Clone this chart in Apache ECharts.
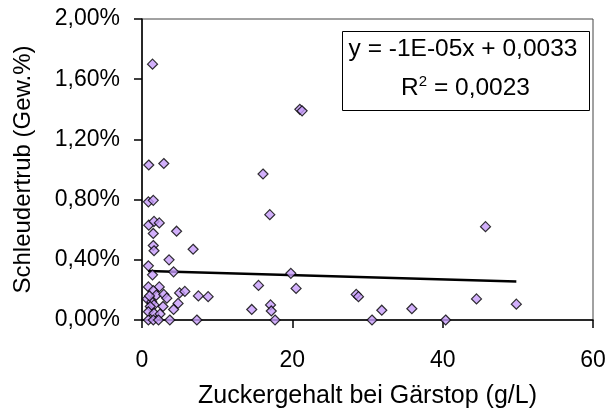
<!DOCTYPE html>
<html>
<head>
<meta charset="utf-8">
<script src="https://cdn.jsdelivr.net/npm/echarts@6/dist/echarts.min.js"></script>
<style>
html,body{margin:0;padding:0;background:#fff;}
#chart{width:609px;height:409px;}
</style>
</head>
<body>
<div id="chart"></div>
<script>
// Zuckergehalt bei Gärstop (g/L)
var sugar = [1.4,0.9,2.9,0.85,1.5,0.9,1.6,2.3,1.5,4.6,1.5,1.6,6.8,3.6,0.85,1.4,4.2,
  0.85,2.3,1.5,1.9,2.9,0.7,1.3,1.6,2.8,1.1,4.8,5.0,5.7,7.5,8.8,4.2,0.85,1.6,2.4,0.85,1.5,2.2,3.7,7.3,3.3,1.0,
  14.6,21.0,21.3,16.1,17.0,19.8,15.5,20.5,28.5,28.8,17.1,17.2,17.7,30.6,31.9,35.9,45.7,44.5,49.8,40.4];
// Schleudertrub (Gew.%), in percent
var trub = [1.70,1.03,1.04,0.785,0.795,0.63,0.655,0.645,0.575,0.59,0.495,0.46,0.47,0.40,0.36,0.30,0.32,
  0.22,0.22,0.195,0.165,0.17,0.14,0.12,0.10,0.09,0.09,0.11,0.18,0.19,0.16,0.155,0.07,0.055,0.045,0.04,0,0,0,0,0,0.145,0.16,
  0.07,1.40,1.39,0.97,0.70,0.31,0.23,0.21,0.17,0.155,0.10,0.06,0,0,0.065,0.075,0.62,0.14,0.105,0];
// linear trend line endpoints (x, y%)
var trendX = [0.8, 49.8];
var trendY = [0.325, 0.255];
var xTicks = [0, 20, 40, 60];
var yTicks = [0, 0.4, 0.8, 1.2, 1.6, 2.0];
var eqLine1 = 'y = -1E-05x + 0,0033';
var eqLine2 = 'R{sup|2} = 0,0023';

var pts = sugar.map(function(x, i){ return [x, trub[i]]; });
var trend = trendX.map(function(x, i){ return [x, trendY[i]]; });

var FONT = 'Liberation Sans, Arial, sans-serif';
var chart = echarts.init(document.getElementById('chart'), null, {renderer:'canvas'});
chart.setOption({
  animation: false,
  backgroundColor: '#fff',
  grid: {left:142, right:16, top:19, bottom:89, containLabel:false, outerBoundsMode:'none',
         show:true, borderColor:'#444', borderWidth:1, backgroundColor:'transparent'},
  xAxis: {
    type:'value', min:xTicks[0], max:xTicks[xTicks.length-1], interval:20,
    name:'Zuckergehalt bei Gärstop (g/L)', nameLocation:'middle', nameGap:64,
    nameTextStyle:{fontFamily:FONT, fontSize:25, color:'#000'},
    axisLine:{onZero:false, lineStyle:{color:'#000', width:1.5}},
    axisTick:{show:true, inside:false, length:8, lineStyle:{color:'#000', width:1.5}},
    axisLabel:{fontFamily:FONT, fontSize:23, color:'#000', margin:29},
    splitLine:{show:false}
  },
  yAxis: {
    type:'value', min:yTicks[0], max:yTicks[yTicks.length-1], interval:0.4,
    name:'Schleudertrub (Gew.%)', nameLocation:'middle', nameGap:107, nameRotate:90,
    nameTextStyle:{fontFamily:FONT, fontSize:24, color:'#000'},
    axisLine:{onZero:false, lineStyle:{color:'#000', width:1.5}},
    axisTick:{show:true, inside:false, length:8, lineStyle:{color:'#000', width:1.5}},
    axisLabel:{fontFamily:FONT, fontSize:23, color:'#000', margin:22,
      formatter:function(v){ return v.toFixed(2).replace('.', ',') + '%'; }},
    splitLine:{show:false}
  },
  series: [
    {type:'scatter', data:pts, symbol:'diamond', symbolSize:10,
     itemStyle:{color:'#C79CFA', borderColor:'#000', borderWidth:1.2}, z:3},
    {type:'line', data:trend, symbol:'none', lineStyle:{color:'#000', width:2.5}, z:2}
  ],
  graphic: [
    {type:'rect', left:342, top:31, shape:{width:247, height:79},
     style:{fill:'#fff', stroke:'#000', lineWidth:1}, z:10},
    {type:'text', x:463, y:49, style:{text:eqLine1, fontFamily:FONT, fontSize:24.5, fill:'#000', align:'center', verticalAlign:'middle'}, z:11},
    {type:'text', x:465.5, y:88, style:{text:eqLine2, fontFamily:FONT, fontSize:24.5, fill:'#000', align:'center', verticalAlign:'middle',
      rich:{sup:{fontFamily:FONT, fontSize:15, fill:'#000', verticalAlign:'top', padding:[0,0,12,0]}}}, z:11}
  ]
});
</script>
</body>
</html>
